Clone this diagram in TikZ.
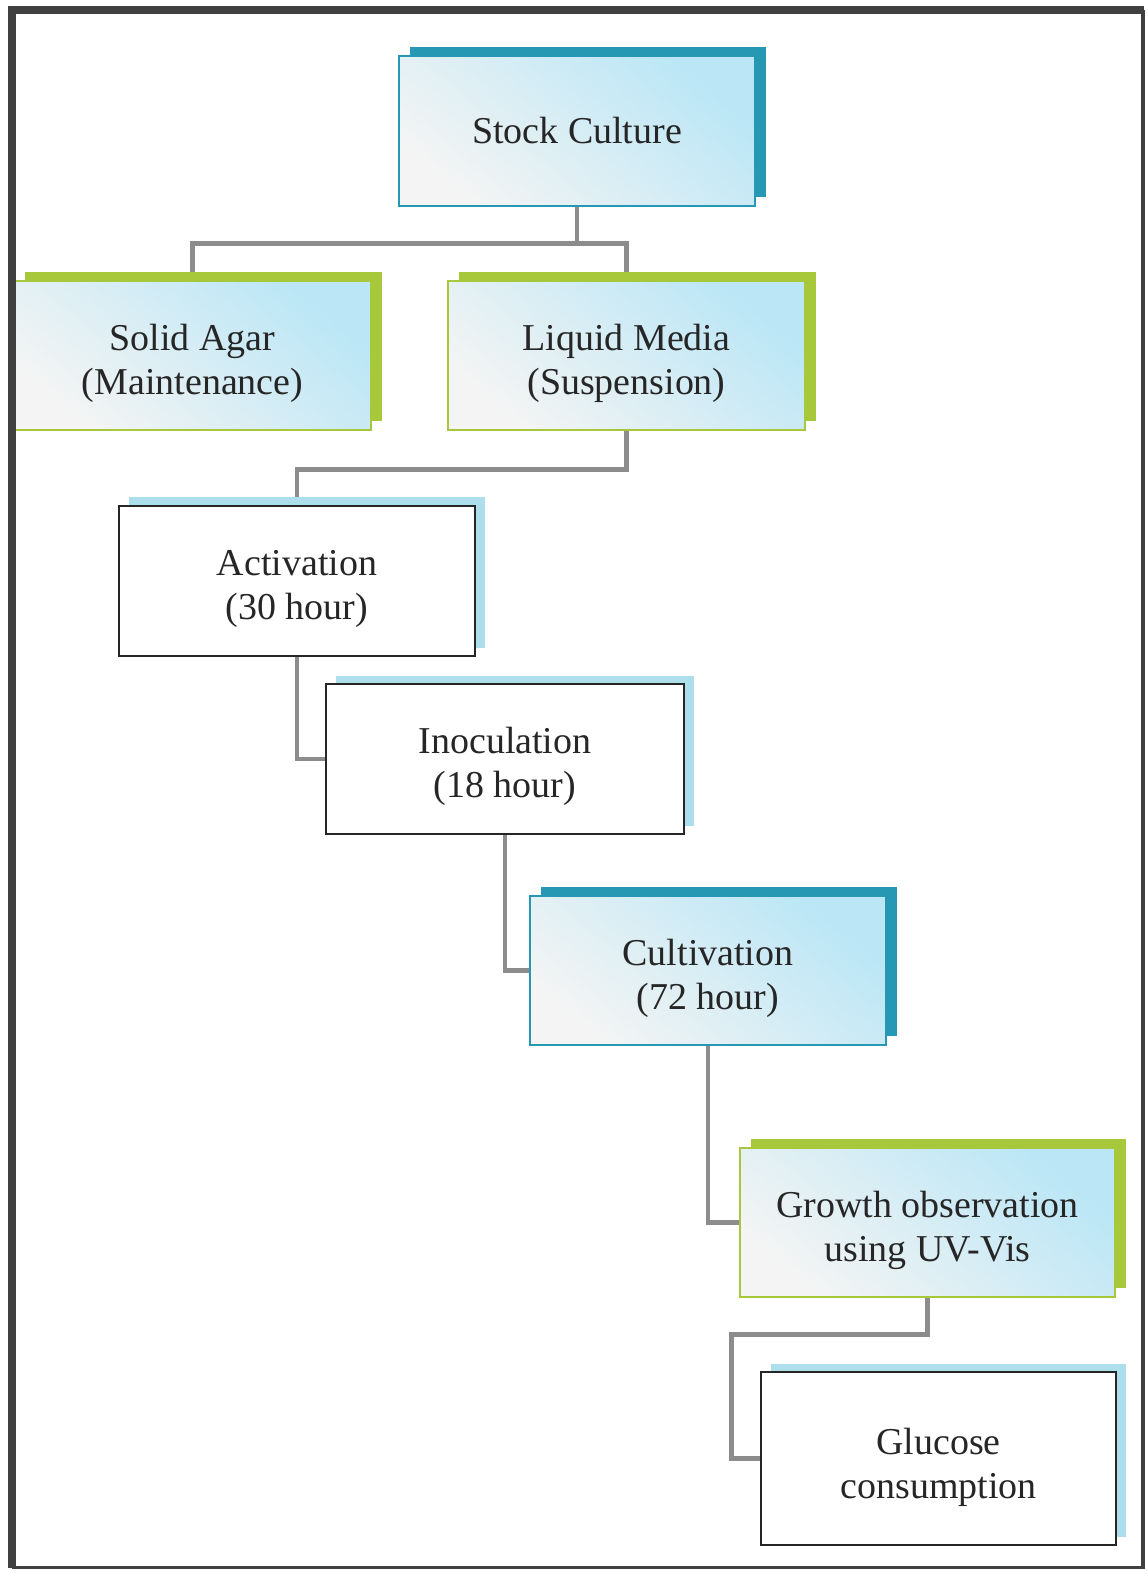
\documentclass[tikz,border=0pt]{standalone}
\usepackage{fontspec}
\setmainfont{Liberation Serif}
\usetikzlibrary{shadows,backgrounds}

\definecolor{tealedge}{RGB}{38,152,180}
\definecolor{limeedge}{RGB}{166,200,58}
\definecolor{skyedge}{RGB}{173,222,236}
\definecolor{skyfill}{RGB}{186,230,245}
\definecolor{paperfill}{RGB}{244,244,244}
\definecolor{linkgray}{RGB}{140,140,140}
\definecolor{inkgray}{RGB}{38,38,38}

\begin{document}
\begin{tikzpicture}[
    box/.style={rectangle, minimum width=3.56cm, minimum height=1.5cm, inner sep=0pt,
      align=center, text=inkgray, font=\fontsize{10.8}{12.5}\selectfont},
    twoline/.style={text height=24.4pt},
    tealbox/.style={box, draw=tealedge, line width=0.6pt,
      top color=skyfill, bottom color=paperfill, shading angle=-40,
      general shadow={fill=tealedge, shadow xshift=0.11cm, shadow yshift=0.09cm}},
    limebox/.style={box, twoline, draw=limeedge, line width=0.6pt,
      top color=skyfill, bottom color=paperfill, shading angle=-40,
      general shadow={fill=limeedge, shadow xshift=0.11cm, shadow yshift=0.09cm}},
    plainbox/.style={box, twoline, draw=black!85, fill=white, line width=0.75pt,
      general shadow={fill=skyedge, shadow xshift=0.10cm, shadow yshift=0.085cm}},
    link/.style={draw=linkgray, line width=1.4pt}
  ]
    \useasboundingbox (0,0) rectangle (11.47,-15.74);

    % the boxes
    \node[tealbox] (stock) at (5.77,-1.31) {Stock Culture};
    \node[limebox, minimum width=3.57cm, minimum height=1.49cm] (solid) at (1.925,-3.555) {Solid Agar\\(Maintenance)};
    \node[limebox, minimum width=3.57cm, minimum height=1.49cm] (liquid) at (6.265,-3.555) {Liquid Media\\(Suspension)};
    \node[plainbox] (activ) at (2.97,-5.81) {Activation\\(30 hour)};
    \node[plainbox, minimum width=3.58cm] (inoc) at (5.05,-7.59) {Inoculation\\(18 hour)};
    \node[tealbox, twoline, minimum height=1.49cm] (cult) at (7.08,-9.705) {Cultivation\\(72 hour)};
    \node[limebox, minimum width=3.75cm, minimum height=1.49cm] (growth) at (9.275,-12.225) {Growth observation\\using UV-Vis};
    \node[plainbox, minimum width=3.55cm, minimum height=1.73cm, text height=25pt] (glucose) at (9.385,-14.585) {Glucose\\consumption};

    % the connectors, behind the boxes
    \begin{scope}[on background layer]
      \draw[link] (stock.south) -- ++(0,-0.36) coordinate (fork);
      \draw[link] (fork) -| (solid.north);
      \draw[link] (fork) -| (liquid.north);
      \draw[link] (liquid.south) -- ++(0,-0.38) -| (activ.north);
      \draw[link] (activ.south) |- (inoc.west);
      \draw[link] (inoc.south) |- (cult.west);
      \draw[link] (cult.south) |- (growth.west);
      \draw[link] (growth.south) -- ++(0,-0.36) -| ([xshift=-0.28cm]glucose.west) -- (glucose.west);
    \end{scope}

    % page frame
    \draw[black!75, line width=0.08cm] (0.12,-15.68) -- (0.12,-0.10) -- (11.44,-0.10);
    \draw[black!75, line width=0.035cm] (11.43,-0.10) -- (11.43,-15.675) -- (0.12,-15.675);
\end{tikzpicture}
\end{document}
